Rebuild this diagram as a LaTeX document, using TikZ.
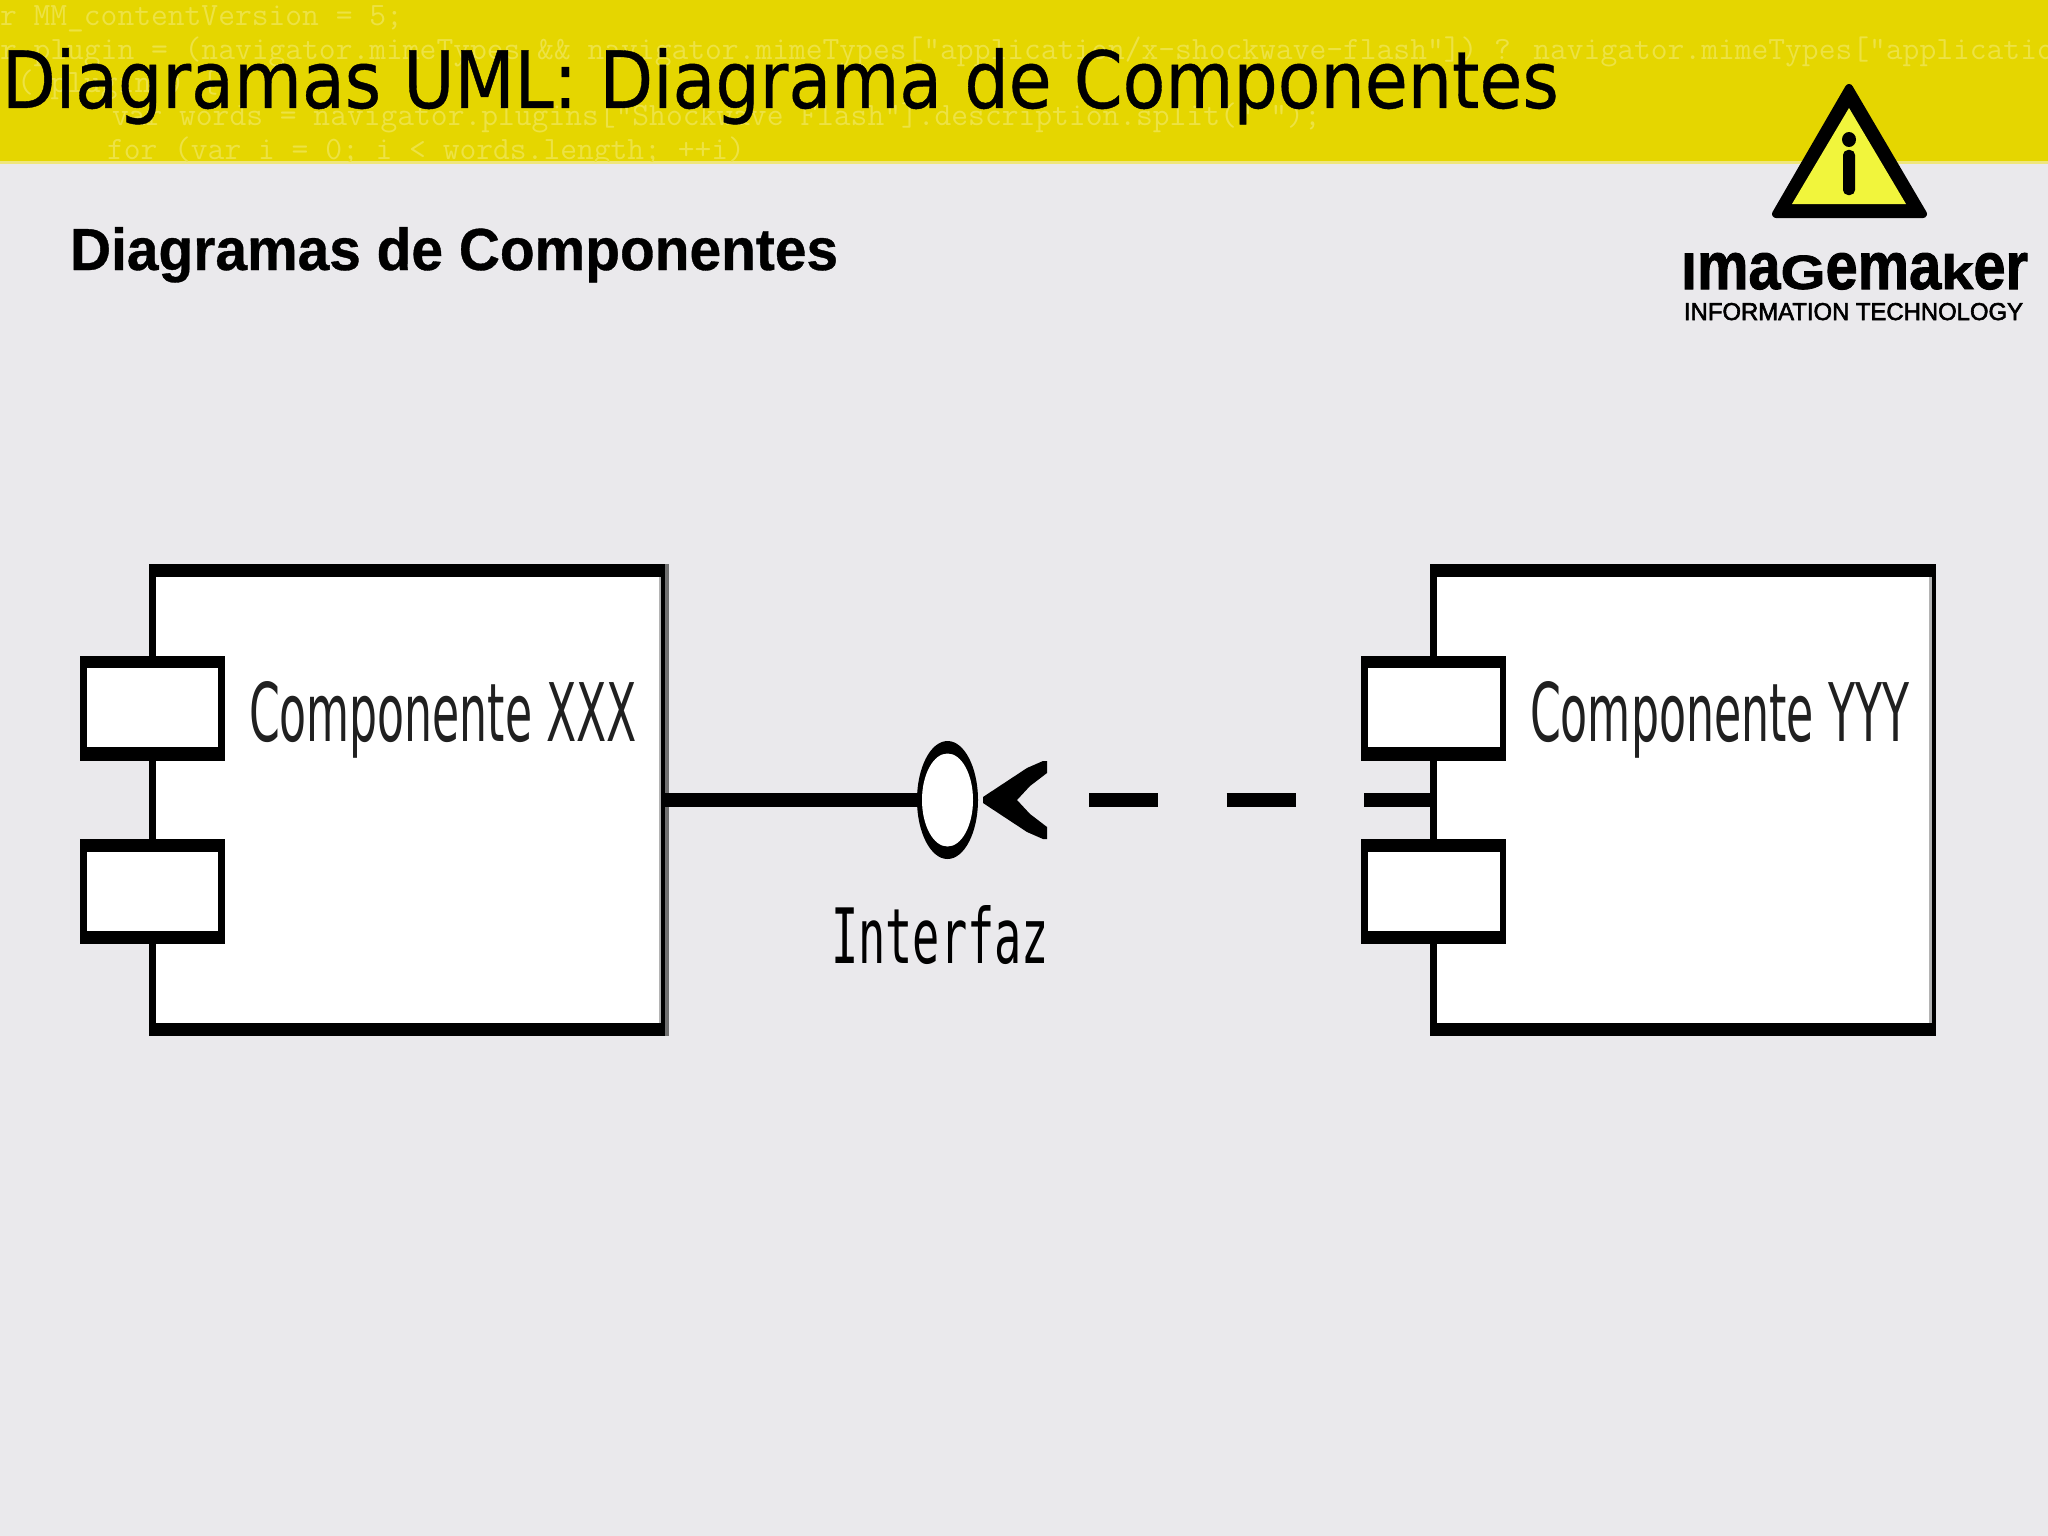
\documentclass[tikz,border=0pt]{standalone}
\usepackage{graphicx}
\usepackage{fontspec}
\setmainfont{DejaVu Sans}
\newfontfamily\titlefont{DejaVu Sans}[RawFeature={embolden=0.5}]
\newfontfamily\headfont{Liberation Sans}[BoldFeatures={RawFeature={embolden=0.6}}]
\newfontfamily\logofont{Liberation Sans}[BoldFeatures={RawFeature={embolden=1.5}}]
\newfontfamily\logosub{Liberation Sans}[RawFeature={embolden=2.5}]
\newfontfamily\ifacefont{DejaVu Sans Mono}
\usetikzlibrary{shapes.geometric}
\definecolor{pagebg}{HTML}{EAE9EC}
\definecolor{band}{HTML}{E5D600}
\definecolor{bandedge}{HTML}{EFE67C}
\definecolor{codecol}{HTML}{EDE244}
\definecolor{warn}{HTML}{F1F53C}
\definecolor{edge}{HTML}{707070}
\definecolor{edgein}{HTML}{B4B4B4}
\definecolor{lbl}{HTML}{202020}
\tikzset{
  x=1pt,y=-1pt,
  txt/.style={inner sep=0pt,outer sep=0pt,anchor=base west},
  codeline/.style={txt,text=codecol,font=\ttfamily\fontsize{32.6}{33}\selectfont},
  blk/.style={fill=black,inner sep=0pt,outer sep=0pt,anchor=north west},
  wht/.style={fill=white,inner sep=0pt,outer sep=0pt,anchor=north west},
  conn/.style={line width=13.5pt,draw=black,line cap=butt},
}
\newcommand{\rbox}[3]{\resizebox{#1pt}{#2pt}{#3}}
\begin{document}
\begin{tikzpicture}
\useasboundingbox (0,0) rectangle (2048,1536);
\fill[pagebg] (0,0) rectangle (2048,1536);
\fill[bandedge] (0,161) rectangle (2048,164);
\fill[band] (0,0) rectangle (2048,161.5);
\begin{scope}
\clip (0,0) rectangle (2048,162);
\node[codeline] (c1) at (0,25.5) {r MM\_contentVersion = 5;};
\node[codeline] (c2) at (0,59.5) {r plugin = (navigator.mimeTypes \&\& navigator.mimeTypes["application/x-shockwave-flash"]) ? navigator.mimeTypes["applicatio};
\node[codeline] (c3) at (17,92.5) {( plugin ) \{};
\node[codeline] (c4) at (112,125.5) {var words = navigator.plugins["Shockwave Flash"].description.split(" ");};
\node[codeline] (c5) at (107,159.5) {for (var i = 0; i < words.length; ++i)};
\end{scope}
\node[txt] (title) at (2,108) {\rbox{1556}{60}{\titlefont Diagramas UML: Diagrama de Componentes}};
\node[txt] (head) at (70,270) {\rbox{768}{43}{\headfont\bfseries Diagramas de Componentes}};

% logo
\filldraw[black,line width=8pt,line join=round] (1849,88) -- (1923,214) -- (1776,214) -- cycle;
\fill[warn] (1849,108) -- (1906,204) -- (1792,204) -- cycle;
\fill[black] (1849,139.5) ellipse (7 and 7.5);
\fill[black,rounded corners=5pt] (1843,150) rectangle (1855,195);
\node[txt] (logoa) at (1681,289) {\rbox{347}{36}{\logofont\bfseries ıma\scalebox{1}[.72]{G}ema\scalebox{1}[.72]{k}er}};
\node[txt] (logob) at (1684,320) {\rbox{339}{17}{\logosub INFORMATION TECHNOLOGY}};

% component XXX
\fill[edge] (660,564) rectangle (669,1036);
\node[blk,minimum width=516pt,minimum height=472pt] (compX) at (149,564) {};
\node[wht,minimum width=504pt,minimum height=446pt] (compXin) at (156,577) {};
\fill[edgein] (659,577) rectangle (660.5,1023);
\node[blk,minimum width=145pt,minimum height=105pt] (px1) at (80,656) {};
\node[wht,minimum width=131pt,minimum height=79pt] (px1in) at (87,668) {};
\node[blk,minimum width=145pt,minimum height=105pt] (px2) at (80,839) {};
\node[wht,minimum width=131pt,minimum height=79pt] (px2in) at (87,852) {};
\node[txt,text=lbl] (lx) at (249,741) {\rbox{388}{60}{Componente XXX}};

% component YYY
\node[blk,minimum width=506pt,minimum height=472pt] (compY) at (1430,564) {};
\node[wht,minimum width=495.5pt,minimum height=446pt] (compYin) at (1436.5,577) {};
\fill[edgein] (1929,577) rectangle (1932,1023);
\node[blk,minimum width=145pt,minimum height=105pt] (py1) at (1360.5,656) {};
\node[wht,minimum width=132pt,minimum height=79pt] (py1in) at (1367.5,668) {};
\node[blk,minimum width=145pt,minimum height=105pt] (py2) at (1360.5,839) {};
\node[wht,minimum width=132pt,minimum height=79pt] (py2in) at (1367.5,852) {};
\node[txt,text=lbl] (ly) at (1530,741) {\rbox{379}{60}{Componente YYY}};

% interface
\node[ellipse,fill=black,inner sep=0pt,outer sep=0pt,minimum width=61pt,minimum height=118pt] (iface) at (947.5,800) {};
\node[ellipse,fill=white,inner sep=0pt,outer sep=0pt,minimum width=51pt,minimum height=93pt] (ifacein) at (947.5,800) {};
\node[txt] (ilabel) at (831,963) {\rbox{218}{58}{\ifacefont Interfaz}};
\coordinate (leftend) at (compX.east |- iface.west);
\draw[conn] (leftend) -- (iface.west);
\fill[black] (983,797) -- (1027,768) -- (1043,761) -- (1047,761) -- (1047,773) -- (1030,786) -- (1017,800)
  -- (1030,814) -- (1047,827) -- (1047,839) -- (1043,839) -- (1027,832) -- (983,803) -- cycle;
\coordinate (dashstart) at (1089,800);
\draw[conn,dash pattern=on 69pt off 68.5pt] (dashstart) -- (compY.west |- dashstart);
\end{tikzpicture}
\end{document}
